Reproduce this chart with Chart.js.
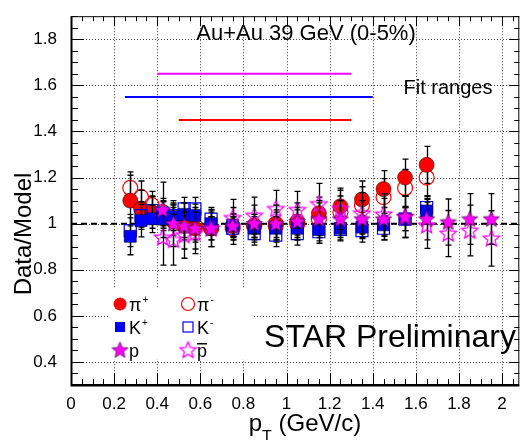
<!DOCTYPE html>
<html>
<head>
<meta charset="utf-8">
<script src="https://cdn.jsdelivr.net/npm/chart.js@4.4.1/dist/chart.umd.min.js"></script>
<style>
  html, body { margin: 0; padding: 0; background: #fff; }
  #wrap { width: 529px; height: 440px; }
</style>
</head>
<body>
<div id="wrap"><canvas id="c" width="529" height="440"></canvas></div>
<script>
// bins (GeV/c)
const piK_pT = [0.275, 0.325, 0.375, 0.425, 0.475, 0.525, 0.575, 0.65, 0.75, 0.85, 0.95, 1.05, 1.15, 1.25, 1.35, 1.45, 1.55, 1.65];
const p_pT = [0.425, 0.475, 0.525, 0.575, 0.65, 0.75, 0.85, 0.95, 1.05, 1.15, 1.25, 1.35, 1.45, 1.55, 1.65, 1.75, 1.85, 1.95];

// data/model ratios
const piPlus = [1.10, 1.065, 1.05, 1.04, 1.01, 0.99, 0.98, 0.98, 0.99, 0.99, 1.00, 1.01, 1.045, 1.075, 1.105, 1.15, 1.20, 1.255];
const piMinus = [1.155, 1.115, 1.08, 1.05, 1.03, 1.00, 0.99, 0.98, 0.98, 0.99, 0.99, 1.00, 1.02, 1.05, 1.08, 1.115, 1.155, 1.20];
const kPlus = [0.945, 1.013, 1.021, 1.02, 1.03, 1.04, 1.035, 1.00, 0.993, 0.98, 0.98, 0.98, 0.975, 0.98, 0.985, 0.995, 1.02, 1.055];
const kMinus = [0.97, 1.035, 1.057, 1.045, 1.035, 1.064, 1.064, 1.02, 0.98, 0.957, 0.95, 0.957, 0.965, 0.975, 0.97, 0.98, 1.02, 1.07];
const proton = [1.06, 1.00, 0.99, 0.98, 0.98, 0.99, 1.00, 1.00, 1.01, 1.02, 1.02, 1.02, 1.02, 1.03, 1.02, 1.007, 1.02, 1.02];
const pbar = [0.94, 0.93, 0.95, 0.96, 0.98, 1.025, 1.035, 1.064, 1.06, 1.085, 1.064, 1.045, 1.04, 1.03, 0.993, 0.957, 0.97, 0.936];

// errors
const piPlusErr = [0.11, 0.08, 0.07, 0.06, 0.06, 0.06, 0.06, 0.05, 0.05, 0.05, 0.06, 0.06, 0.07, 0.07, 0.08, 0.08, 0.08, 0.08];
const piMinusErr = [0.07, 0.07, 0.06, 0.06, 0.06, 0.06, 0.06, 0.05, 0.05, 0.05, 0.06, 0.06, 0.07, 0.07, 0.08, 0.08, 0.08, 0.08];
const kPlusErr = [0.08, 0.07, 0.06, 0.05, 0.05, 0.05, 0.05, 0.05, 0.05, 0.05, 0.05, 0.05, 0.05, 0.05, 0.05, 0.05, 0.05, 0.05];
const kMinusErr = [0.07, 0.06, 0.06, 0.05, 0.05, 0.05, 0.05, 0.05, 0.05, 0.05, 0.05, 0.05, 0.05, 0.05, 0.05, 0.05, 0.05, 0.05];
const protonErr = [0.12, 0.1, 0.1, 0.09, 0.08, 0.08, 0.08, 0.08, 0.08, 0.08, 0.08, 0.08, 0.09, 0.09, 0.09, 0.1, 0.11, 0.11];
const pbarErr = [0.12, 0.11, 0.1, 0.09, 0.08, 0.08, 0.08, 0.08, 0.08, 0.09, 0.09, 0.09, 0.09, 0.09, 0.1, 0.1, 0.11, 0.12];

// fit ranges
const fitPX = [0.4, 1.3], fitPY = [1.65, 1.65];
const fitKX = [0.25, 1.4], fitKY = [1.55, 1.55];
const fitPiX = [0.5, 1.3], fitPiY = [1.45, 1.45];
const unityX = [0, 2.08], unityY = [1, 1];

// axes
const xTicks = [0, 0.2, 0.4, 0.6, 0.8, 1, 1.2, 1.4, 1.6, 1.8, 2];
const yTicks = [0.4, 0.6, 0.8, 1, 1.2, 1.4, 1.6, 1.8];
const xMin = 0, xMax = 2.08, yMin = 0.3, yMax = 1.9;

const FONT = '"Liberation Sans", Arial, sans-serif';
const RED = '#ff0000', BLUE = '#0000ff', MAG = '#ff00ff';

function pts(xs, ys) { return xs.map((x, i) => ({ x: x, y: ys[i] })); }

function starImg(filled, size) {
  const c = document.createElement('canvas');
  c.width = c.height = size;
  const g = c.getContext('2d');
  const cx = size / 2, cy = size / 2 + 0.5, R = size / 2 - 1, r = R * 0.45;
  g.beginPath();
  for (let i = 0; i < 10; i++) {
    const a = -Math.PI / 2 + i * Math.PI / 5;
    const rr = i % 2 ? r : R;
    g.lineTo(cx + rr * Math.cos(a), cy + rr * Math.sin(a));
  }
  g.closePath();
  if (filled) {
    g.fillStyle = MAG; g.fill();
    g.strokeStyle = 'rgba(70,0,70,0.7)'; g.lineWidth = 1; g.stroke();
  } else {
    g.strokeStyle = MAG; g.lineWidth = 1.3; g.stroke();
  }
  return c;
}
const starFull = starImg(true, 19);
const starOpen = starImg(false, 19);

function series(label, xs, ys, errs, style) {
  return Object.assign({
    label: label, data: pts(xs, ys), errs: errs,
    showLine: false, pointHoverRadius: 0
  }, style);
}

const datasets = [
  { label: 'unity', data: pts(unityX, unityY), showLine: true, borderColor: '#000', borderWidth: 2, borderDash: [6, 4], pointRadius: 0, order: 20 },
  { label: 'fit p', data: pts(fitPX, fitPY), showLine: true, borderColor: MAG, borderWidth: 2, pointRadius: 0, order: 20 },
  { label: 'fit K', data: pts(fitKX, fitKY), showLine: true, borderColor: BLUE, borderWidth: 2, pointRadius: 0, order: 20 },
  { label: 'fit pi', data: pts(fitPiX, fitPiY), showLine: true, borderColor: RED, borderWidth: 2, pointRadius: 0, order: 20 },
  series('π⁻', piK_pT, piMinus, piMinusErr, { pointStyle: 'circle', pointRadius: 7.5, backgroundColor: 'rgba(0,0,0,0)', borderColor: RED, pointBorderWidth: 1.2, order: 9 }),
  series('π⁺', piK_pT, piPlus, piPlusErr, { pointStyle: 'circle', pointRadius: 7.5, backgroundColor: RED, borderColor: 'rgba(60,0,0,0.6)', pointBorderWidth: 1, order: 8 }),
  series('K⁻', piK_pT, kMinus, kMinusErr, { pointStyle: 'rect', pointRadius: 8.5, backgroundColor: 'rgba(0,0,0,0)', borderColor: BLUE, pointBorderWidth: 1.2, order: 7 }),
  series('K⁺', piK_pT, kPlus, kPlusErr, { pointStyle: 'rect', pointRadius: 8.5, backgroundColor: BLUE, borderColor: 'rgba(0,0,60,0.6)', pointBorderWidth: 1, order: 6 }),
  series('p̄', p_pT, pbar, pbarErr, { pointStyle: starOpen, order: 5 }),
  series('p', p_pT, proton, protonErr, { pointStyle: starFull, order: 4 })
];

const errorBars = {
  id: 'errorBars',
  beforeDatasetDraw(chart, args) {
    const ds = chart.data.datasets[args.index];
    if (!ds.errs) return;
    const ctx = chart.ctx, xs = chart.scales.x, ys = chart.scales.y;
    ctx.save();
    ctx.strokeStyle = '#000';
    ctx.lineWidth = 1.3;
    ds.data.forEach((p, i) => {
      const e = ds.errs[i];
      const px = Math.round(xs.getPixelForValue(p.x)) + 0.5;
      const top = ys.getPixelForValue(p.y + e), bot = ys.getPixelForValue(p.y - e);
      ctx.beginPath();
      ctx.moveTo(px, top); ctx.lineTo(px, bot);
      ctx.moveTo(px - 3, top); ctx.lineTo(px + 3, top);
      ctx.moveTo(px - 3, bot); ctx.lineTo(px + 3, bot);
      ctx.stroke();
    });
    ctx.restore();
  }
};

const frame = {
  id: 'frame',
  beforeDatasetsDraw(chart) {
    // dotted grid at major ticks
    const ctx = chart.ctx, a = chart.chartArea, xs = chart.scales.x, ys = chart.scales.y;
    ctx.save();
    ctx.strokeStyle = '#444';
    ctx.lineWidth = 1;
    ctx.setLineDash([1, 2]);
    xTicks.forEach(v => {
      if (v <= xMin) return;
      const px = Math.round(xs.getPixelForValue(v)) + 0.5;
      ctx.beginPath(); ctx.moveTo(px, a.top); ctx.lineTo(px, a.bottom); ctx.stroke();
    });
    yTicks.forEach(v => {
      const py = Math.round(ys.getPixelForValue(v)) + 0.5;
      ctx.beginPath(); ctx.moveTo(a.left, py); ctx.lineTo(a.right, py); ctx.stroke();
    });
    ctx.restore();
  },
  afterDatasetsDraw(chart) {
    const ctx = chart.ctx, a = chart.chartArea, xs = chart.scales.x, ys = chart.scales.y;
    ctx.save();
    // legend box
    ctx.fillStyle = '#fff';
    ctx.fillRect(108, 289, 146, 70);
    const rows = [
      [{ k: 'cf', t: 'π', s: '+' }, { k: 'co', t: 'π', s: '-' }],
      [{ k: 'sf', t: 'K', s: '+' }, { k: 'so', t: 'K', s: '-' }],
      [{ k: 'pf', t: 'p', s: '' }, { k: 'po', t: 'p', s: '', bar: true }]
    ];
    const colX = [120, 188], rowY = [304, 327, 350];
    rows.forEach((row, ri) => row.forEach((it, ci) => {
      const x = colX[ci], y = rowY[ri];
      ctx.setLineDash([]);
      if (it.k === 'cf' || it.k === 'co') {
        ctx.beginPath(); ctx.arc(x, y, 6.5, 0, Math.PI * 2);
        if (it.k === 'cf') { ctx.fillStyle = RED; ctx.fill(); }
        else { ctx.strokeStyle = RED; ctx.lineWidth = 1.2; ctx.stroke(); }
      } else if (it.k === 'sf') {
        ctx.fillStyle = BLUE; ctx.fillRect(x - 5, y - 5, 10, 10);
      } else if (it.k === 'so') {
        ctx.strokeStyle = BLUE; ctx.lineWidth = 1.2; ctx.strokeRect(x - 5, y - 5, 10, 10);
      } else {
        ctx.drawImage(it.k === 'pf' ? starFull : starOpen, x - 9.5, y - 9.5);
      }
      ctx.fillStyle = '#000';
      ctx.textBaseline = 'alphabetic';
      ctx.textAlign = 'left';
      ctx.font = '18px ' + FONT;
      const tx = x + 9, ty = y + 7;
      ctx.fillText(it.t, tx, ty);
      const w = ctx.measureText(it.t).width;
      if (it.s) { ctx.font = '10px ' + FONT; ctx.fillText(it.s, tx + w + 1, ty - 8); }
      if (it.bar) { ctx.fillRect(tx, ty - 14, w, 1.5); }
    }));

    // texts
    ctx.fillStyle = '#000';
    ctx.textAlign = 'center';
    ctx.textBaseline = 'middle';
    ctx.font = '22px ' + FONT;
    ctx.fillText('Au+Au 39 GeV (0-5%)', 306, 34);
    ctx.font = '20px ' + FONT;
    ctx.fillText('Fit ranges', 448, 88);
    ctx.font = '32px ' + FONT;
    ctx.fillText('STAR Preliminary', 390, 338);

    // frame
    ctx.strokeStyle = '#000';
    ctx.lineWidth = 1;
    ctx.strokeRect(a.left + 0.5, a.top + 0.5, a.right - a.left - 1, a.bottom - a.top - 1);
    ctx.lineWidth = 2;
    ctx.beginPath();
    ctx.moveTo(a.left + 0.5, a.top); ctx.lineTo(a.left + 0.5, a.bottom + 0.5); ctx.lineTo(a.right, a.bottom + 0.5);
    ctx.stroke();

    // ticks on all four sides, minor every 0.05
    ctx.lineWidth = 1;
    ctx.beginPath();
    for (let i = 0; xMin + i * 0.05 <= xMax + 1e-9; i++) {
      const v = xMin + i * 0.05;
      const major = i % 4 === 0;
      const px = Math.round(xs.getPixelForValue(v)) + 0.5;
      const L = major ? 12 : 6, T = major ? 10 : 5;
      ctx.moveTo(px, a.bottom); ctx.lineTo(px, a.bottom - L);
      ctx.moveTo(px, a.top); ctx.lineTo(px, a.top + T);
    }
    for (let i = 0; yMin + i * 0.05 <= yMax + 1e-9; i++) {
      const v = yMin + i * 0.05;
      const major = Math.abs(v * 5 - Math.round(v * 5)) < 1e-6;
      const py = Math.round(ys.getPixelForValue(v)) + 0.5;
      const L = major ? 13 : 7, T = major ? 10 : 5;
      ctx.moveTo(a.left, py); ctx.lineTo(a.left + L, py);
      ctx.moveTo(a.right, py); ctx.lineTo(a.right - T, py);
    }
    ctx.stroke();

    // axis titles
    ctx.save();
    ctx.translate(24, 234);
    ctx.rotate(-Math.PI / 2);
    ctx.font = '24px ' + FONT;
    ctx.textAlign = 'center';
    ctx.textBaseline = 'middle';
    ctx.fillText('Data/Model', 0, 0);
    ctx.restore();

    ctx.textAlign = 'left';
    ctx.textBaseline = 'alphabetic';
    ctx.font = '24px ' + FONT;
    const wP = ctx.measureText('p').width;
    ctx.font = '16px ' + FONT;
    const wT = ctx.measureText('T').width;
    ctx.font = '24px ' + FONT;
    const rest = ' (GeV/c)';
    const wR = ctx.measureText(rest).width;
    let sx = 305 - (wP + wT + wR) / 2;
    ctx.fillText('p', sx, 431);
    ctx.font = '16px ' + FONT;
    ctx.fillText('T', sx + wP, 442);
    ctx.font = '24px ' + FONT;
    ctx.fillText(rest, sx + wP + wT, 431);
    ctx.restore();
  }
};

const fmt = v => String(Number(v.toFixed(1)));

new Chart(document.getElementById('c'), {
  type: 'scatter',
  data: { datasets: datasets },
  options: {
    responsive: false,
    animation: false,
    events: [],
    layout: { padding: { top: 9, right: 4, left: 0, bottom: 0 } },
    plugins: { legend: { display: false }, tooltip: { enabled: false } },
    scales: {
      x: {
        type: 'linear', min: xMin, max: xMax,
        afterBuildTicks: s => { s.ticks = xTicks.map(v => ({ value: v })); },
        afterFit: s => { s.height = 55; },
        grid: { display: false }, border: { display: false },
        ticks: { callback: v => fmt(v), color: '#000', font: { family: FONT, size: 17 }, maxRotation: 0, autoSkip: false, padding: 1 }
      },
      y: {
        type: 'linear', min: yMin, max: yMax,
        afterBuildTicks: s => { s.ticks = yTicks.map(v => ({ value: v })); },
        afterFit: s => { s.width = 71; },
        grid: { display: false }, border: { display: false },
        ticks: { callback: v => fmt(v), color: '#000', font: { family: FONT, size: 17 }, autoSkip: false, padding: 6 }
      }
    }
  },
  plugins: [errorBars, frame]
});
</script>
</body>
</html>
